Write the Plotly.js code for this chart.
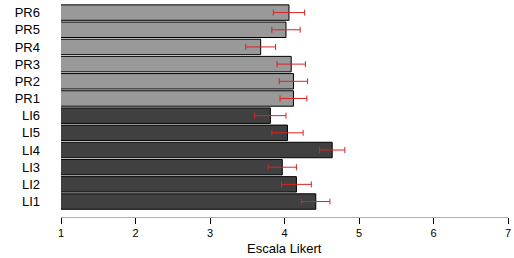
<!DOCTYPE html>
<html><head><meta charset="utf-8">
<script src="https://cdn.plot.ly/plotly-3.0.1.min.js"></script>
<style>body{margin:0;padding:0;background:#fff}</style>
</head><body>
<div id="chart" style="width:514px;height:258px"></div>
<script>
const categories = ["LI1","LI2","LI3","LI4","LI5","LI6","PR1","PR2","PR3","PR4","PR5","PR6"];
const means = [4.42, 4.16, 3.97, 4.64, 4.04, 3.81, 4.12, 4.12, 4.09, 3.68, 4.02, 4.06];
const errors = [0.19, 0.20, 0.19, 0.17, 0.21, 0.21, 0.18, 0.19, 0.19, 0.20, 0.19, 0.21];
const groupColors = ["#404040","#404040","#404040","#404040","#404040","#404040","#999999","#999999","#999999","#999999","#999999","#999999"];
const tickVals = [1,2,3,4,5,6,7];
const xTitle = "Escala Likert";

const trace = {
  type: "bar", orientation: "h",
  x: means, y: categories,
  marker: {color: groupColors, line: {color: "#000", width: 1}},
  error_x: {type: "data", array: errors, visible: true, color: "#dd2222", thickness: 1, width: 3},
  hoverinfo: "none"
};
const layout = {
  width: 514, height: 258,
  margin: {l: 61, r: 6, t: 4, b: 41},
  paper_bgcolor: "#fff", plot_bgcolor: "#fff",
  showlegend: false,
  bargap: 0.1,
  font: {family: "Liberation Sans, Arial, sans-serif", color: "#000"},
  xaxis: {
    range: [1, 7], tickvals: tickVals, ticktext: tickVals.map(String),
    showgrid: false, zeroline: false, automargin: false,
    showline: true, linecolor: "#b0b0b0", linewidth: 1,
    ticks: "outside", ticklen: 6, tickcolor: "#000", tickwidth: 1,
    tickfont: {size: 11},
    fixedrange: true
  },
  yaxis: {
    type: "category", categoryorder: "array", categoryarray: categories,
    range: [-0.9, 11.5], automargin: false,
    showgrid: false, zeroline: false, showline: false, ticks: "",
    tickfont: {size: 13}, ticklabelstandoff: 20,
    fixedrange: true
  },
  annotations: [{
    text: xTitle, xref: "paper", yref: "paper", x: 0.5, y: -0.19,
    xanchor: "center", yanchor: "bottom", showarrow: false,
    font: {size: 13}, borderpad: 0
  }]
};
Plotly.newPlot("chart", [trace], layout, {displayModeBar: false, staticPlot: true});
</script>
</body></html>
